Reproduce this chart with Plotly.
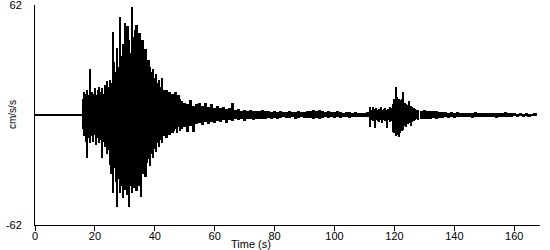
import numpy as np
import plotly.graph_objects as go

# ---- data (cm/s/s), peak amplitudes per time window: positive peak and negative peak magnitude ----
t_pre = [0, 1, 2, 3, 4, 5, 6, 7, 8, 9, 10, 11, 12, 13, 14, 15]
pos_pre = [0.45, 0.45, 0.45, 0.45, 0.45, 0.45, 0.45, 0.45, 0.45, 0.45, 0.45, 0.45, 0.45, 0.45, 0.45, 0.45]
neg_pre = [0.45, 0.45, 0.45, 0.45, 0.45, 0.45, 0.45, 0.45, 0.45, 0.45, 0.45, 0.45, 0.45, 0.45, 0.45, 0.45]

t_main = np.arange(16.0, 50.01, 0.5)
pos_main = [9, 13, 12, 14, 11, 26, 13, 12, 15, 11,
            14, 16, 13, 15, 12, 17, 19, 16, 20, 18,
            47, 30, 24, 38, 27, 55, 33, 40, 52, 36,
            50, 42, 35, 61, 44, 48, 51, 40, 46, 38,
            42, 33, 37, 29, 31, 27, 24, 26, 21, 23,
            18, 20, 16, 21, 14, 12, 14, 10, 13, 9,
            12, 10, 13, 8, 11, 9, 8, 6, 7]
neg_main = [8, 12, 15, 24, 13, 16, 12, 15, 11, 17,
            13, 16, 14, 24, 15, 18, 22, 20, 28, 33,
            44, 30, 38, 52, 36, 44, 40, 47, 42, 38,
            45, 52, 40, 44, 41, 37, 43, 36, 40, 46,
            33, 30, 35, 27, 25, 29, 22, 24, 19, 21,
            16, 18, 14, 16, 12, 10, 13, 9, 11, 8,
            10, 9, 8, 10, 7, 9, 8, 6, 7]

t_coda = np.arange(51, 112, 1)
pos_coda = [6, 8.5, 5, 6, 6.5, 5, 6.5, 4.5, 6, 4,
            5, 4, 4.5, 3.5, 4, 6.5, 3, 3.5, 2.5, 3,
            2.5, 3, 2, 2.5, 2, 3, 2, 2, 1.5, 2,
            1.5, 2, 1.5, 1.5, 2, 1.5, 1.5, 2, 1.5, 1.5,
            2, 2, 2.8, 2.5, 2.8, 2.2, 1.5, 2, 1.5, 1.5,
            2, 1.5, 1.2, 1.5, 1.5, 1.2, 1.5, 1.2, 1.0, 1.2, 1.5]
neg_coda = [9.6, 6, 9.6, 5, 4.5, 5.5, 4, 5, 4, 4.5,
            3.5, 4, 3, 4.5, 3, 3.5, 2.5, 3, 2.5, 3.4,
            2, 2.5, 3, 2, 2.5, 2, 2.5, 1.5, 2, 1.5,
            2, 1.5, 1.2, 1.8, 1.5, 1.2, 2, 1.5, 1.2, 1.5,
            1.8, 1.5, 2, 1.5, 2.2, 1.5, 1.2, 1.5, 1.2, 1.5,
            1.2, 1.5, 1, 1.2, 1.5, 1, 1.2, 1, 1, 1.2, 1]

t_sec = np.arange(112.0, 128.01, 0.5)
pos_sec = [4.5, 3, 4.5, 3.5, 4, 3, 3.5, 4.5, 3, 3.5,
           4, 3, 3.5, 4.5, 4, 6, 9, 15.8, 10, 9,
           8.5, 9, 13, 7, 6, 5.5, 7.9, 5, 4.5, 4,
           3.5, 3, 3]
neg_sec = [6.7, 3, 3.5, 7.3, 3, 3.5, 4, 3, 4.5, 3,
           3.5, 7.3, 3, 4, 3.5, 9.6, 10, 12, 11, 12.4,
           10, 9, 8.5, 6, 7, 5, 4.5, 6, 4, 3.5,
           3, 2.5, 3]

t_tail = np.arange(129, 168, 1)
pos_tail = [2.5, 3, 2.5, 2, 2.5, 2, 1.7, 1.5, 1.7, 1.2,
            1.5, 1.3, 1.5, 1.2, 1.0, 1.3, 1.2, 1, 1.5, 1.2,
            1, 1.2, 1, 1.3, 1, 1.2, 1, 1.3, 1.5, 1.2,
            1, 1, 0.8, 1, 0.8, 1, 0.8, 0.8, 1]
neg_tail = [2.2, 2.5, 2, 2.2, 1.8, 2, 1.5, 1.7, 1.2, 1.5,
            1.2, 1.5, 1, 1.3, 1.2, 1, 1.2, 1.5, 1, 1.2,
            1.3, 1, 1.2, 1, 1.2, 1.5, 1, 1, 1.2, 1,
            1, 0.8, 1, 0.8, 1, 0.8, 1, 0.8, 0.8]

x_ticks = [0, 20, 40, 60, 80, 100, 120, 140, 160]
y_ticks = [-62, 62]

# ---- build trace: each window drawn as a bar spanning its negative to positive peak ----
segments = [(t_pre, pos_pre, neg_pre, 1.0), (t_main, pos_main, neg_main, 0.5),
            (t_coda, pos_coda, neg_coda, 1.0), (t_sec, pos_sec, neg_sec, 0.5),
            (t_tail, pos_tail, neg_tail, 1.0)]
xs, heights, bases, widths = [], [], [], []
for t, p, n, step in segments:
    assert len(t) == len(p) == len(n)
    for ti, pi, ni in zip(t, p, n):
        xs.append(float(ti))
        heights.append(pi + ni)
        bases.append(-ni)
        widths.append(step * 1.15)

fig = go.Figure(go.Bar(x=xs, y=heights, base=bases, width=widths,
                       marker=dict(color="black", line=dict(width=0)),
                       hoverinfo="skip"))

font = dict(family="Liberation Sans, Arial, sans-serif", size=11, color="black")
fig.update_layout(
    width=550, height=250,
    margin=dict(l=35, r=10, t=5, b=25, autoexpand=False),
    paper_bgcolor="white", plot_bgcolor="white",
    showlegend=False, font=font, bargap=0,
    xaxis=dict(range=[0, 168.6], tickvals=x_ticks, ticks="outside", ticklen=5,
               tickcolor="black", showline=True, linecolor="black", linewidth=1,
               showgrid=False, zeroline=False, tickfont=font,
               ticklabelstandoff=-4, ticklabeloverflow="allow"),
    yaxis=dict(range=[-62, 62], tickvals=y_ticks, ticktext=["-62", "62"],
               ticks="outside", ticklen=10, tickcolor="rgba(0,0,0,0)",
               showline=True, linecolor="black", linewidth=1,
               showgrid=False, zeroline=False, tickfont=font,
               ticklabeloverflow="allow"),
    annotations=[
        dict(text="Time (s)", xref="paper", yref="paper", x=(251 - 35) / 505,
             y=(225 - 244) / 220, xanchor="center", yanchor="middle",
             showarrow=False, font=font),
        dict(text="cm/s/s", xref="paper", yref="paper", x=(12 - 35) / 505, y=0.5,
             xanchor="center", yanchor="middle", textangle=-90,
             showarrow=False, font=dict(family=font["family"], size=10, color="black")),
    ],
)

fig.write_html("out.html")
